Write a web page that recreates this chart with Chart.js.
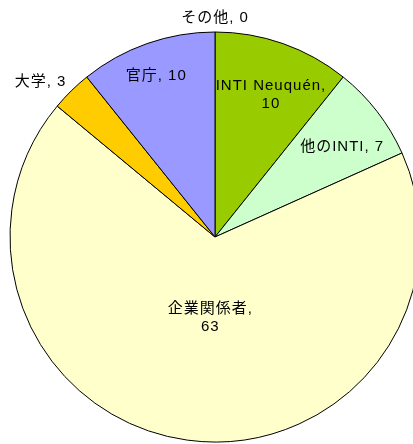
<!DOCTYPE html>
<html>
<head>
<meta charset="utf-8">
<script src="https://cdn.jsdelivr.net/npm/chart.js@4/dist/chart.umd.min.js"></script>
<style>
html,body{margin:0;padding:0;background:#fff;overflow:hidden;width:413px;height:444px;}
canvas{display:block;}
</style>
</head>
<body>
<canvas id="c" width="430" height="444"></canvas>
<script>
const categories = ['INTI Neuquén', '他のINTI', '企業関係者', '大学', '官庁', 'その他'];
const values = [10, 7, 63, 3, 10, 0];
const sliceColors = ['#99CC00', '#CCFFCC', '#FFFFCC', '#FFCC00', '#9999FF', '#FFFFFF'];

// label placement (radius fraction along mid-angle, extra pixel offset, wrap)
const labelLayout = [
  {r: 0.75, dx: 5, dy: 3, wrap: true},
  {r: 0.76, dx: 4, dy: 5, wrap: false},
  {r: 0.39, dx: 6, dy: 2, wrap: true},
  {r: 1.13, dx: -12, dy: 10, wrap: false},
  {r: 0.85, dx: -1, dy: 3, wrap: false},
  {r: 1.07, dx: 0, dy: 0, wrap: false}
];

const labelPlugin = {
  id: 'pieLabels',
  afterDatasetsDraw(chart) {
    const ctx = chart.ctx;
    const meta = chart.getDatasetMeta(0);
    ctx.save();
    ctx.font = '15px "Liberation Sans", Arial, "Noto Sans CJK JP", sans-serif';
    if ('letterSpacing' in ctx) ctx.letterSpacing = '1px';
    ctx.fillStyle = '#000';
    ctx.textAlign = 'center';
    ctx.textBaseline = 'middle';
    meta.data.forEach((arc, i) => {
      const p = arc.getProps(['x', 'y', 'startAngle', 'endAngle', 'outerRadius'], true);
      const mid = (p.startAngle + p.endAngle) / 2;
      const L = labelLayout[i];
      const cx = p.x + Math.cos(mid) * p.outerRadius * L.r + L.dx;
      const cy = p.y + Math.sin(mid) * p.outerRadius * L.r + L.dy;
      const lines = L.wrap ? [categories[i] + ',', String(values[i])]
                           : [categories[i] + ', ' + values[i]];
      const lh = 18;
      lines.forEach((t, k) => {
        ctx.fillText(t, cx, cy + (k - (lines.length - 1) / 2) * lh);
      });
    });
    ctx.restore();
  }
};

new Chart(document.getElementById('c'), {
  type: 'pie',
  data: {
    labels: categories,
    datasets: [{
      data: values,
      backgroundColor: sliceColors,
      borderColor: '#000',
      borderWidth: 1,
      radius: 205
    }]
  },
  options: {
    responsive: false,
    animation: false,
    layout: {padding: {left: 10, right: 10, top: 32, bottom: 2}},
    plugins: {legend: {display: false}, tooltip: {enabled: false}}
  },
  plugins: [labelPlugin]
});
</script>
</body>
</html>
